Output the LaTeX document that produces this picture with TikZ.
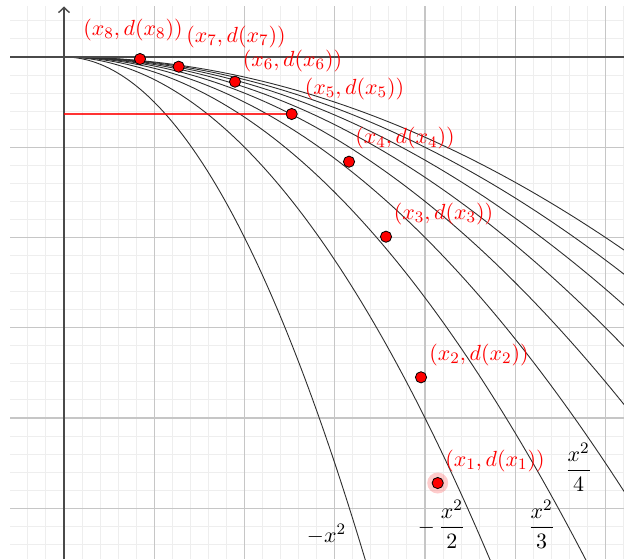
\documentclass[tikz,border=0pt]{standalone}
\usetikzlibrary{arrows.meta}
\definecolor{minorgrid}{HTML}{EEEEEE}
\definecolor{majorgrid}{HTML}{C6C6C6}
\definecolor{axiscol}{HTML}{4A4A4A}
\definecolor{curvecol}{HTML}{2E2E2E}
\definecolor{ptred}{HTML}{FF0000}
\begin{document}
\begin{tikzpicture}[x=0.5pt,y=-0.5pt,
  minorline/.style={draw=minorgrid,line width=0.5pt},
  majorline/.style={draw=majorgrid,line width=0.6pt},
  curve/.style={draw=curvecol,line width=0.45pt},
  pt/.style={circle,fill=ptred,draw=black,line width=0.4pt,inner sep=0pt,minimum size=5.6pt},
  halo/.style={circle,fill=ptred,fill opacity=0.2,draw=none,inner sep=0pt,minimum size=10.5pt},
  lbl/.style={text=ptred,inner sep=0pt,font=\fontsize{10.8}{13}\selectfont},
  flbl/.style={text=black,inner sep=0pt,font=\fontsize{10.8}{13}\selectfont}]
\useasboundingbox (0,0) rectangle (624,559);
\begin{scope}
  \clip (10,6) rectangle (624,559);
  \foreach \i in {-3,...,31} \draw[minorline] ({64+18.05*\i},6) -- ({64+18.05*\i},559);
  \foreach \j in {-2,...,28} \draw[minorline] (10,{57+18.05*\j}) -- (624,{57+18.05*\j});
  \foreach \i in {1,...,6} \draw[majorline] ({64+90.25*\i},6) -- ({64+90.25*\i},559);
  \foreach \j in {1,...,5} \draw[majorline] (10,{57+90.25*\j}) -- (624,{57+90.25*\j});
  \foreach \k in {1,...,9}
    \draw[curve] plot[domain=64:624,samples=160,smooth] (\x,{57+180.5*((\x-64)/180.5)^2/\k});
\end{scope}
% axes
\draw[axiscol,line width=1pt] (10,57) -- (624,57);
\draw[axiscol,line width=0.7pt,-{Straight Barb[length=2.6pt,width=5.5pt]}] (64,559) -- (64,6.5);
% red horizontal segment
\coordinate (h5) at (64,114);
\node[halo] (h1) at (437.7,483) {};
\node[pt] (p8) at (140,59) {};
\node[pt] (p7) at (178.7,66.7) {};
\node[pt] (p6) at (235,81.7) {};
\node[pt] (p5) at (291.7,114) {};
\node[pt] (p4) at (349,161.7) {};
\node[pt] (p3) at (386,236.7) {};
\node[pt] (p2) at (421,377.3) {};
\node[pt] (p1) at (437.7,483) {};
\draw[ptred,line width=1.2pt,opacity=0.8] (h5) -- (p5.west);
% point labels
\node[lbl] (l8) at (133,30) {$(x_8,d(x_8))$};
\node[lbl] (l7) at (236,37) {$(x_7,d(x_7))$};
\node[lbl] (l6) at (292.5,61) {$(x_6,d(x_6))$};
\node[lbl] (l5) at (354.5,89) {$(x_5,d(x_5))$};
\node[lbl] (l4) at (405,138.5) {$(x_4,d(x_4))$};
\node[lbl] (l3) at (443.5,214) {$(x_3,d(x_3))$};
\node[lbl] (l2) at (479,355) {$(x_2,d(x_2))$};
\node[lbl] (l1) at (495,461) {$(x_1,d(x_1))$};
% curve labels
\node[flbl] (c1) at (326.5,534) {$-x^2$};
\node[flbl] (c2) at (441.5,524) {$-\,\displaystyle\frac{x^2}{2}$};
\node[flbl] (c3) at (541.5,524) {$\displaystyle\frac{x^2}{3}$};
\node[flbl] (c4) at (578.5,467) {$\displaystyle\frac{x^2}{4}$};
\end{tikzpicture}
\end{document}
